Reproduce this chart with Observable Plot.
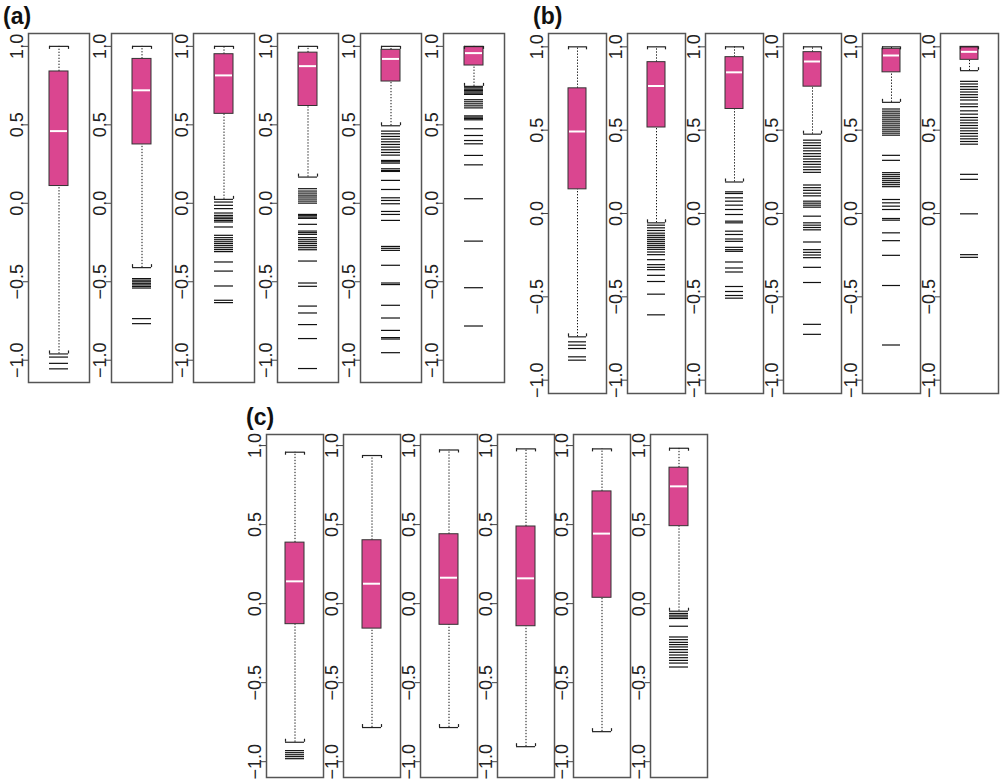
<!DOCTYPE html>
<html><head><meta charset="utf-8">
<script src="https://cdn.jsdelivr.net/npm/d3@7"></script>
<script src="https://cdn.jsdelivr.net/npm/@observablehq/plot@0.6"></script>
<style>
html,body{margin:0;padding:0;background:#fff;}
#root{position:relative;width:1000px;height:783px;overflow:hidden;font-family:"Liberation Sans",Arial,sans-serif;}
.plabel{position:absolute;font-weight:bold;font-size:23px;line-height:1;color:#111;font-family:"Liberation Sans",Arial,sans-serif;}
.cell{position:absolute;}
.cell svg text{font-size:18px;}
</style></head><body><div id="root"></div><script>
// ---------- data ----------
const boxIds = ["1","2","3","4","5","6"];
const yTicks = [-1, -0.5, 0, 0.5, 1];

// panel (a)
const aLow  = [-0.96, -0.41, 0.025, 0.167, 0.494, 0.745];
const aQ1   = [0.11, 0.375, 0.57, 0.62, 0.776, 0.878];
const aMed  = [0.46, 0.72, 0.815, 0.874, 0.92, 0.957];
const aQ3   = [0.84, 0.92, 0.95, 0.96, 0.978, 0.995];
const aHigh = [1.0, 1.0, 1.0, 1.0, 1.0, 1.0];
const aOut = [
  [-0.98, -1.02, -1.055],
  [-0.48, -0.49, -0.50, -0.51, -0.52, -0.53, -0.54, -0.735, -0.767],
  [0.008, -0.013, -0.034, -0.062, -0.077, -0.088, -0.098, -0.109, -0.119, -0.151, -0.204, -0.219, -0.232, -0.245, -0.257, -0.27, -0.283, -0.295, -0.308, -0.374, -0.432, -0.527, -0.618, -0.633],
  [0.093, 0.078, 0.065, 0.052, 0.040, 0.027, 0.014, 0.001, -0.071, -0.079, -0.088, -0.096, -0.134, -0.177, -0.187, -0.198, -0.219, -0.232, -0.245, -0.257, -0.270, -0.283, -0.296, -0.368, -0.508, -0.529, -0.655, -0.699, -0.773, -0.862, -1.053],
  [0.460, 0.443, 0.426, 0.409, 0.392, 0.375, 0.358, 0.341, 0.324, 0.307, 0.273, 0.265, 0.256, 0.220, 0.209, 0.203, 0.146, 0.088, 0.035, 0.018, -0.003, -0.052, -0.071, -0.109, -0.275, -0.287, -0.300, -0.395, -0.508, -0.518, -0.650, -0.731, -0.810, -0.856, -0.865, -0.952],
  [0.736, 0.727, 0.719, 0.710, 0.702, 0.694, 0.660, 0.647, 0.634, 0.621, 0.608, 0.557, 0.549, 0.540, 0.532, 0.475, 0.432, 0.400, 0.379, 0.305, 0.245, 0.029, -0.241, -0.538, -0.782]
];

// panel (b)
const bLow  = [-0.74, -0.056, 0.189, 0.476, 0.667, 0.857];
const bQ1   = [0.145, 0.516, 0.627, 0.761, 0.847, 0.922];
const bMed  = [0.492, 0.765, 0.847, 0.912, 0.948, 0.97];
const bQ3   = [0.751, 0.908, 0.938, 0.968, 0.988, 1.0];
const bHigh = [1.0, 1.0, 1.0, 1.0, 1.0, 1.0];
const bOut = [
  [-0.77, -0.79, -0.81, -0.86, -0.88],
  [-0.070, -0.086, -0.102, -0.118, -0.131, -0.143, -0.155, -0.167, -0.179, -0.191, -0.203, -0.215, -0.231, -0.247, -0.277, -0.307, -0.323, -0.337, -0.371, -0.408, -0.484, -0.608],
  [0.130, 0.120, 0.094, 0.074, 0.050, 0.024, -0.006, -0.046, -0.056, -0.106, -0.126, -0.153, -0.167, -0.203, -0.217, -0.227, -0.291, -0.327, -0.351, -0.438, -0.468, -0.492, -0.508],
  [0.440, 0.424, 0.408, 0.392, 0.376, 0.359, 0.343, 0.327, 0.311, 0.295, 0.279, 0.263, 0.247, 0.171, 0.155, 0.139, 0.122, 0.106, 0.074, 0.062, 0.050, 0.038, -0.016, -0.056, -0.070, -0.084, -0.098, -0.171, -0.217, -0.233, -0.249, -0.265, -0.323, -0.414, -0.665, -0.725],
  [0.627, 0.614, 0.602, 0.590, 0.578, 0.566, 0.554, 0.542, 0.530, 0.518, 0.506, 0.494, 0.482, 0.470, 0.349, 0.319, 0.245, 0.233, 0.221, 0.209, 0.197, 0.185, 0.173, 0.161, 0.084, 0.064, 0.044, 0.024, -0.030, -0.040, -0.116, -0.163, -0.251, -0.432, -0.789],
  [0.793, 0.777, 0.761, 0.745, 0.729, 0.713, 0.697, 0.681, 0.657, 0.641, 0.616, 0.596, 0.576, 0.560, 0.544, 0.528, 0.512, 0.496, 0.480, 0.464, 0.448, 0.432, 0.416, 0.235, 0.205, -0.002, -0.247, -0.263]
];

// panel (c)
const cLow  = [-0.877, -0.784, -0.784, -0.905, -0.81, -0.048];
const cQ1   = [-0.13, -0.158, -0.134, -0.143, 0.037, 0.49];
const cMed  = [0.141, 0.126, 0.164, 0.16, 0.443, 0.742];
const cQ3   = [0.386, 0.401, 0.439, 0.488, 0.71, 0.86];
const cHigh = [0.958, 0.937, 0.972, 0.979, 0.979, 0.983];
const cOut = [
  [-0.930, -0.943, -0.956, -0.968, -0.981],
  [], [], [], [],
  [-0.062, -0.073, -0.084, -0.094, -0.143, -0.211, -0.228, -0.245, -0.259, -0.274, -0.291, -0.308, -0.325, -0.342, -0.359, -0.376, -0.401]
];

// ---------- layout ----------
const panels = [
  {label: "(a)", labelLeft: 3, labelTop: 5, lefts: [28, 111, 193, 277, 360, 443], width: 61, top: 33, bottom: 382, domain: [-1.142, 1.082],
   low: aLow, q1: aQ1, med: aMed, q3: aQ3, high: aHigh, out: aOut},
  {label: "(b)", labelLeft: 533, labelTop: 5, lefts: [548, 627, 705, 783, 862, 940], width: 58, top: 33, bottom: 393, domain: [-1.08, 1.08],
   low: bLow, q1: bQ1, med: bMed, q3: bQ3, high: bHigh, out: bOut},
  {label: "(c)", labelLeft: 246, labelTop: 406, lefts: [266, 343, 420, 497, 573, 650], width: 57, top: 434, bottom: 777, domain: [-1.10, 1.07],
   low: cLow, q1: cQ1, med: cMed, q3: cQ3, high: cHigh, out: cOut}
];

const PINK = "#DA4690";
const ML = 30;
const root = document.getElementById("root");
const fmt = d3.format(".1f");

for (const p of panels) {
  const lab = document.createElement("div");
  lab.className = "plabel";
  lab.style.left = p.labelLeft + "px";
  lab.style.top = p.labelTop + "px";
  lab.textContent = p.label;
  root.appendChild(lab);

  boxIds.forEach((g, i) => {
    const row = [{g, lo: p.low[i], q1: p.q1[i], med: p.med[i], q3: p.q3[i], hi: p.high[i]}];
    const outs = p.out[i].map(v => ({g, v}));
    const inset = Math.round(p.width * 0.34);
    const half = (p.width - 2 * inset) / 2;
    const H = p.bottom - p.top;
    const chart = Plot.plot({
      width: ML + p.width + 1,
      height: H + 2,
      marginLeft: ML, marginRight: 1, marginTop: 1, marginBottom: 1,
      x: {domain: [g], axis: null, padding: 0},
      y: {domain: p.domain, axis: null, label: null},
      style: {fontFamily: "Liberation Sans, Arial, sans-serif", fontSize: "18px", background: "none", overflow: "visible", color: "#222"},
      marks: [
        Plot.ruleX(row, {x: "g", y1: "q3", y2: "hi", stroke: "#111", strokeWidth: 1, strokeDasharray: "1.3,1.7"}),
        Plot.ruleX(row, {x: "g", y1: "lo", y2: "q1", stroke: "#111", strokeWidth: 1, strokeDasharray: "1.3,1.7"}),
        Plot.barY(row, {x: "g", y1: "q1", y2: "q3", fill: PINK, stroke: "#333", strokeWidth: 1, insetLeft: inset, insetRight: inset}),
        Plot.tickY(row, {x: "g", y: "med", stroke: "#fff", strokeWidth: 2, insetLeft: inset + 1, insetRight: inset + 1}),
        Plot.tickY(row, {x: "g", y: "hi", stroke: "#222", strokeWidth: 1.2, insetLeft: inset, insetRight: inset}),
        Plot.tickY(row, {x: "g", y: "lo", stroke: "#222", strokeWidth: 1.2, insetLeft: inset, insetRight: inset}),
        Plot.ruleX(row, {x: "g", y1: "hi", y2: "hi", dx: -half, insetTop: 3, stroke: "#222", strokeWidth: 1.2}),
        Plot.ruleX(row, {x: "g", y1: "hi", y2: "hi", dx: half, insetTop: 3, stroke: "#222", strokeWidth: 1.2}),
        Plot.ruleX(row, {x: "g", y1: "lo", y2: "lo", dx: -half, insetBottom: 3, stroke: "#222", strokeWidth: 1.2}),
        Plot.ruleX(row, {x: "g", y1: "lo", y2: "lo", dx: half, insetBottom: 3, stroke: "#222", strokeWidth: 1.2}),
        Plot.tickY(outs, {x: "g", y: "v", stroke: "#111", strokeWidth: 1.2, insetLeft: inset, insetRight: inset}),
        Plot.frame({stroke: "#555", strokeWidth: 1.5}),
        Plot.axisY({ticks: yTicks, tickFormat: fmt, tickRotate: -90, tickSize: 5, tickPadding: 1, label: null, stroke: "#444", fill: "#222", fontSize: 18})
      ]
    });
    const wrap = document.createElement("div");
    wrap.className = "cell";
    wrap.style.left = (p.lefts[i] - ML) + "px";
    wrap.style.top = (p.top - 1) + "px";
    wrap.appendChild(chart);
    root.appendChild(wrap);
  });
}
</script></body></html>
